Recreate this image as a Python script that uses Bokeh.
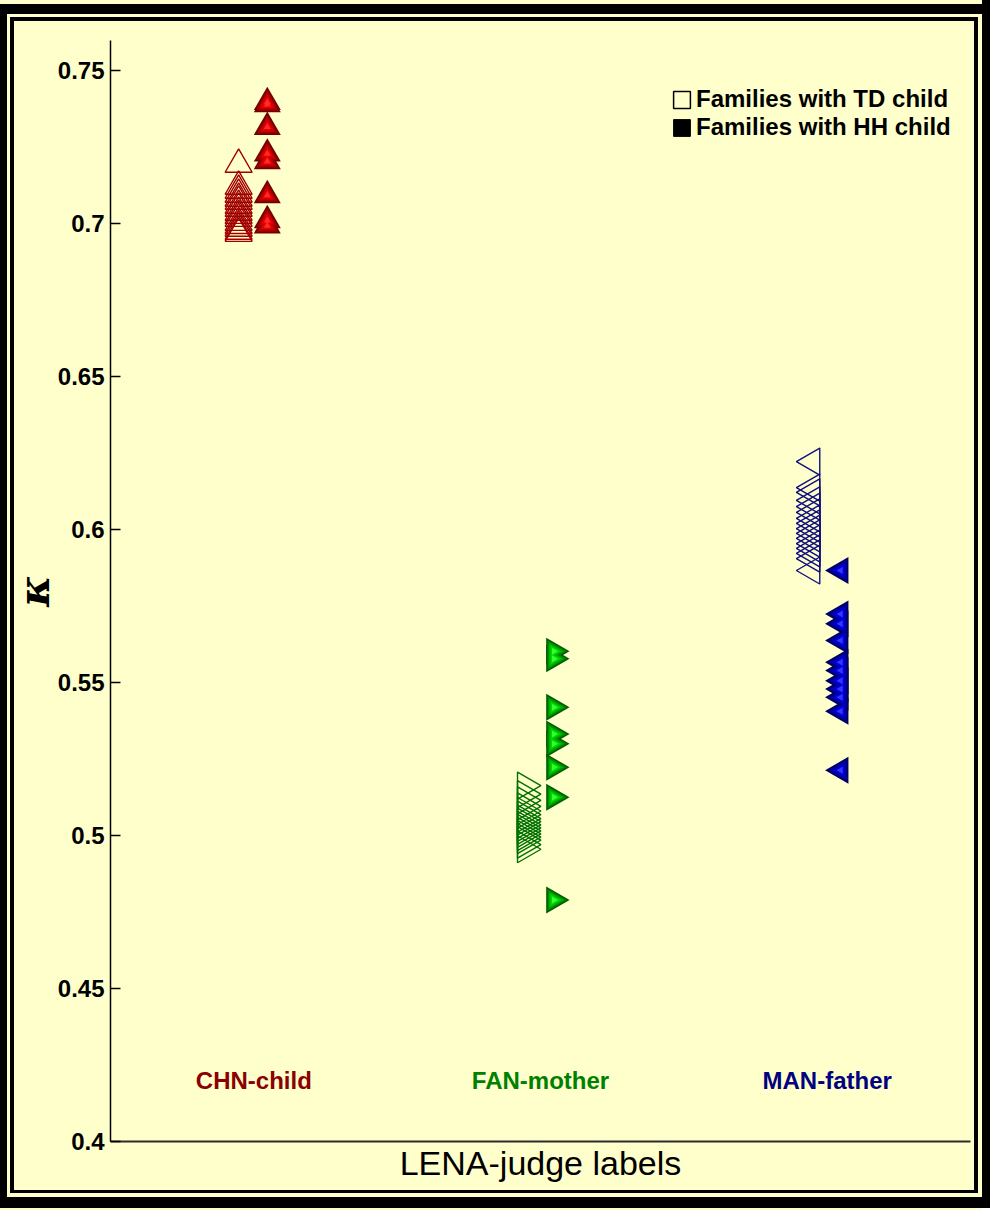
from bokeh.plotting import figure
from bokeh.models import Range1d, FixedTicker, Legend, LegendItem
from bokeh.core.properties import value
from bokeh.embed import file_html
from bokeh.resources import INLINE
import math

# ---------------- data ----------------
categories = ["CHN-child", "FAN-mother", "MAN-father"]
cat_colors = ["#8B0000", "#008000", "#000080"]

chn_td = [0.7193, 0.7121, 0.7108, 0.7095, 0.7082, 0.7072, 0.7059, 0.7049,
          0.7036, 0.7026, 0.7016, 0.7003, 0.6993, 0.6984, 0.6974, 0.6967]
chn_hh = [0.7396, 0.7389, 0.7315, 0.7228, 0.7203, 0.7092, 0.7010, 0.6993]

fan_td = [0.5163, 0.5135, 0.5115, 0.5095, 0.5080, 0.5068, 0.5055, 0.5045,
          0.5035, 0.5025, 0.5015, 0.5005, 0.4995, 0.4985, 0.4970, 0.4955]
fan_hh = [0.5602, 0.5578, 0.5419, 0.5332, 0.5300, 0.5223, 0.5125, 0.4789]

man_td = [0.6222, 0.6137, 0.6121, 0.6095, 0.6075, 0.6056, 0.6036, 0.6020,
          0.6003, 0.5987, 0.5971, 0.5954, 0.5938, 0.5922, 0.5905, 0.5866]
man_hh = [0.5866, 0.5724, 0.5692, 0.5637, 0.5566, 0.5539, 0.5506, 0.5479,
          0.5452, 0.5406, 0.5213]

y_ticks = [0.4, 0.45, 0.5, 0.55, 0.6, 0.65, 0.7, 0.75]
y_tick_labels = ["0.4", "0.45", "0.5", "0.55", "0.6", "0.65", "0.7", "0.75"]

legend_labels = ["Families with TD child", "Families with HH child"]
x_label = "LENA-judge labels"
y_label = "\u03ba"

# ---------------- layout / style ----------------
BG = "#FFFFCC"
FONT = "Liberation Sans"
W, H = 982, 1202
ML, MR, MT, MB = 110, 12, 40, 61

# double black frame drawn as CSS shadows behind a transparent canvas border
def strip(side, n, color, inset=True):
    off = {"top": (0, n), "bottom": (0, -n), "left": (n, 0), "right": (-n, 0)}[side]
    pre = "inset " if inset else ""
    return f"{pre}{off[0]}px {off[1]}px 0 0 {color}"

shadows = [
    strip("top", 4, BG),
    strip("top", 14, "black"), strip("left", 7, "black"), strip("bottom", 5, "black"),
    strip("top", 17, BG), strip("left", 10, BG), strip("right", 4, BG), strip("bottom", 9, BG),
    strip("top", 21, "black"), strip("left", 14, "black"), strip("right", 8, "black"),
    strip("bottom", 12, "black"),
    "8px 0 0 0 black", "0 6px 0 0 black", "8px 6px 0 0 black", "0 8px 0 0 " + BG,
]

p = figure(width=W, height=H, output_backend="svg", toolbar_location=None,
           x_range=Range1d(0.5, 3.5), y_range=Range1d(0.4, 0.7598),
           min_border_left=ML, min_border_right=MR,
           min_border_top=MT, min_border_bottom=MB,
           styles={"background-color": BG, "box-shadow": ", ".join(shadows)})
p.background_fill_color = BG
p.border_fill_color = BG
p.border_fill_alpha = 0
p.outline_line_color = None
p.xgrid.visible = False
p.ygrid.visible = False

# y axis
ya = p.yaxis[0]
ya.ticker = FixedTicker(ticks=y_ticks)
ya.major_label_overrides = dict(zip(y_ticks, y_tick_labels))
ya.major_tick_in = 10
ya.major_tick_out = 0
ya.minor_tick_in = 0
ya.minor_tick_out = 0
ya.major_tick_line_width = 1.5
ya.axis_line_width = 1.5
ya.axis_line_color = "black"
ya.major_label_text_font = FONT
ya.major_label_text_font_style = "bold"
ya.major_label_text_font_size = "24px"
ya.major_label_text_color = "black"
ya.major_label_standoff = 6
ya.axis_label = y_label
ya.axis_label_text_font = "DejaVu Serif"
ya.axis_label_text_font_style = "bold italic"
ya.axis_label_text_font_size = "42px"
ya.axis_label_text_color = "black"
ya.axis_label_standoff = -4

# x axis
xa = p.xaxis[0]
xa.ticker = FixedTicker(ticks=[])
xa.major_tick_line_color = None
xa.minor_tick_line_color = None
xa.axis_line_width = 2
xa.axis_line_color = "#2a2a2a"
xa.axis_label = x_label
xa.axis_label_text_font = FONT
xa.axis_label_text_font_style = "normal"
xa.axis_label_text_font_size = "34px"
xa.axis_label_text_color = "black"
xa.axis_label_standoff = 2
xa.major_label_standoff = 0

# ---------------- markers ----------------
TD_OFF, HH_OFF = -0.053, 0.047
SIZE = 27
grad = {
    "red":   ["#6E0000", "#980000", "#C00000", "#E40000", "#FF2A2A"],
    "green": ["#005A00", "#008800", "#00B000", "#00D600", "#30FF30"],
    "blue":  ["#00005C", "#00008C", "#0000B6", "#0000DC", "#3535FF"],
}
layer_sizes = [27, 22, 17, 12, 7]

groups = [
    (1, chn_td, chn_hh, 0.0, "#A00000", "red"),
    (2, fan_td, fan_hh, -math.pi / 2, "#007000", "green"),
    (3, man_td, man_hh, math.pi / 2, "#101080", "blue"),
]

for cx, td, hh, ang, lc, gname in groups:
    p.scatter([cx + TD_OFF] * len(td), td, marker="triangle", angle=ang,
              size=SIZE, fill_color=None, line_color=lc, line_width=1.4)
    for s, c in zip(layer_sizes, grad[gname]):
        p.scatter([cx + HH_OFF] * len(hh), hh, marker="triangle", angle=ang,
                  size=s, fill_color=c, line_color=None)

# category labels inside plot
label_y = 0.42
p.text(x=[1, 2, 3], y=[label_y] * 3, text=categories, text_color=cat_colors,
       text_font=value(FONT), text_font_style="bold", text_font_size="24px",
       text_align="center", text_baseline="middle")

# legend (swatches: zero-size quads at the axes corner, only their legend glyph shows)
x0, y0 = p.x_range.start, p.y_range.start
r_td = p.quad(left=[x0], right=[x0], top=[y0], bottom=[y0], fill_color=None,
              line_color="black", line_width=1.5)
r_hh = p.quad(left=[x0], right=[x0], top=[y0], bottom=[y0], fill_color="black",
              line_color="black", line_width=1)
legend = Legend(items=[LegendItem(label=legend_labels[0], renderers=[r_td]),
                       LegendItem(label=legend_labels[1], renderers=[r_hh])],
                location=(561, 1000), margin=0, padding=0, spacing=0,
                glyph_width=21, glyph_height=21, label_height=21,
                label_standoff=4,
                label_text_font=FONT, label_text_font_style="bold",
                label_text_font_size="24px", label_text_color="black",
                background_fill_alpha=0, border_line_color=None)
p.add_layout(legend)

open("out.html", "w").write(file_html(p, INLINE))
